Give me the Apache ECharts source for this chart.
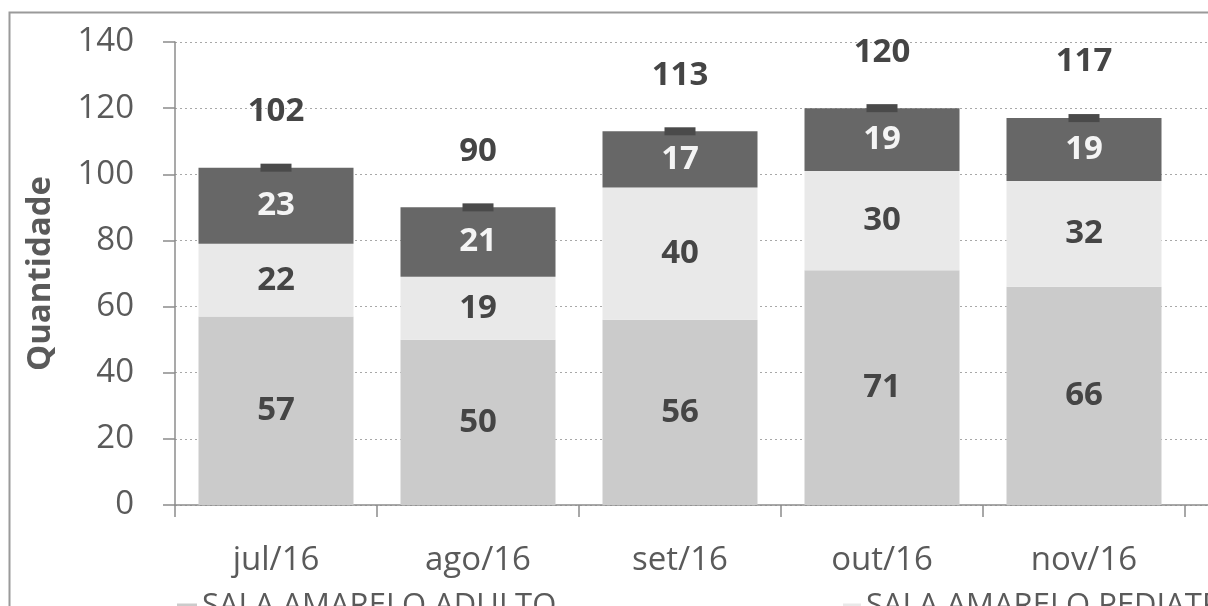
<!DOCTYPE html>
<html><head><meta charset="utf-8">
<script src="https://cdn.jsdelivr.net/npm/echarts@6/dist/echarts.min.js"></script>
<style>html,body{margin:0;padding:0;background:#fff}#c{width:1208px;height:606px}</style>
</head><body><div id="c"></div>
<script>
// ---- data ----
const categories = ['jul/16', 'ago/16', 'set/16', 'out/16', 'nov/16', 'dez/16'];
const salaAdulto = [57, 50, 56, 71, 66, 55];
const salaPediatria = [22, 19, 40, 30, 32, 34];
const salaTerceira = [23, 21, 17, 19, 19, null];
const totais = [102, 90, 113, 120, 117, 89];
const seriesNames = ['SALA AMARELO ADULTO', 'SALA AMARELO PEDIATRIA', 'SALA VERMELHA'];
const yMin = 0, yMax = 140, yInterval = 20;

// ---- styles ----
const FONT = 'Open Sans';
const TXT = '#5a5a5a';
const AX = '#8c8c8c';
const colors = ['#cbcbcb', '#e9e9e9', '#676767'];

const chart = echarts.init(document.getElementById('c'), null, {renderer: 'canvas'});

function barSeries(name, data, color, labelColor) {
  return {
    name: name, type: 'bar', stack: 'total', data: data, barWidth: 155,
    itemStyle: {color: color},
    label: {
      show: true, position: 'inside', fontFamily: FONT, fontSize: 33, fontWeight: 'bold',
      color: labelColor, formatter: p => (p.value == null ? '' : String(p.value))
    },
    z: 2
  };
}

chart.setOption({
  animation: false,
  backgroundColor: '#fff',
  textStyle: {fontFamily: FONT},
  graphic: [{
    type: 'rect', left: 7, top: 10, z: -10, silent: true,
    shape: {width: 1400, height: 800},
    style: {fill: 'none', stroke: '#9a9a9a', lineWidth: 2}
  }],
  grid: {left: 175, top: 42, width: 1212, height: 463, containLabel: false, outerBoundsMode: 'none'},
  legend: [
    {data: [seriesNames[0]], left: 172, top: 586, icon: 'rect', itemWidth: 20, itemHeight: 6, itemGap: 10,
     textStyle: {fontFamily: FONT, fontSize: 31, lineHeight: 31, color: TXT}},
    {data: [seriesNames[1]], left: 838, top: 586, icon: 'rect', itemWidth: 18, itemHeight: 6, itemGap: 10,
     textStyle: {fontFamily: FONT, fontSize: 31, lineHeight: 31, color: TXT}}
  ],
  xAxis: {
    type: 'category', data: categories, boundaryGap: true,
    axisLine: {show: true, lineStyle: {color: AX, width: 1.5}},
    axisTick: {show: true, interval: 0, length: 12, lineStyle: {color: AX, width: 1.5}},
    axisLabel: {interval: 0, margin: 39, fontFamily: FONT, fontSize: 33, color: TXT},
    splitLine: {show: false}
  },
  yAxis: {
    type: 'value', min: yMin, max: yMax, interval: yInterval,
    name: 'Quantidade', nameLocation: 'middle', nameRotate: 90, nameGap: 118,
    nameTextStyle: {fontFamily: FONT, fontSize: 33, fontWeight: 'bold', color: TXT},
    axisLine: {show: true, lineStyle: {color: AX, width: 1.5}},
    axisTick: {show: true, length: 12, lineStyle: {color: AX, width: 1.5}},
    axisLabel: {margin: 41, fontFamily: FONT, fontSize: 33, color: TXT},
    splitLine: {show: true, lineStyle: {color: '#a8a8a8', type: [2, 3], width: 1.2}}
  },
  series: [
    barSeries(seriesNames[0], salaAdulto, colors[0], '#454545'),
    barSeries(seriesNames[1], salaPediatria, colors[1], '#454545'),
    barSeries(seriesNames[2], salaTerceira, colors[2], '#f4f4f4'),
    {
      name: 'Total', type: 'scatter', data: totais, symbol: 'rect', symbolSize: [31, 8],
      itemStyle: {color: '#4a4a4a', opacity: 1},
      label: {show: true, position: 'inside', offset: [0, -56], fontFamily: FONT, fontSize: 33,
              fontWeight: 'bold', color: '#454545', formatter: p => String(p.value)},
      z: 5
    }
  ]
});
</script></body></html>
